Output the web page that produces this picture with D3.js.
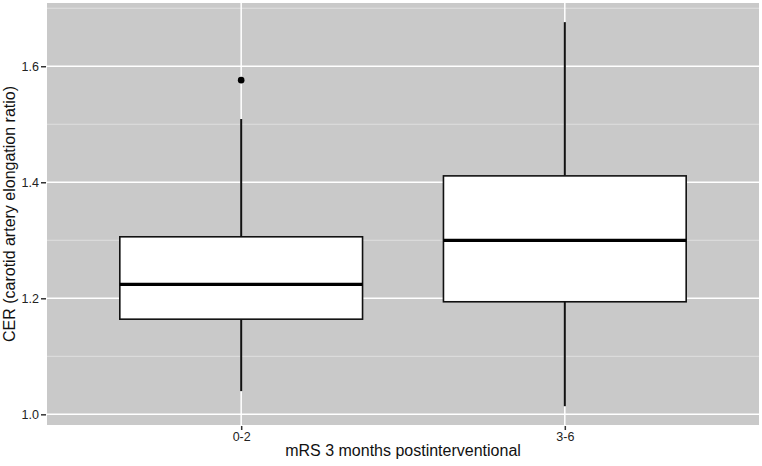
<!DOCTYPE html>
<html>
<head>
<meta charset="utf-8">
<script src="https://cdn.jsdelivr.net/npm/d3@7"></script>
<style>
  body { margin: 0; background: #fff; }
  text { font-family: "Liberation Sans", Arial, sans-serif; }
</style>
</head>
<body>
<div id="chart"></div>
<script>
var groups = ["0-2", "3-6"];
var lowerWhisker = [1.040, 1.014];
var q1 = [1.164, 1.194];
var median = [1.224, 1.300];
var q3 = [1.306, 1.411];
var upperWhisker = [1.509, 1.676];
var outliers = [[1.576], []];
var yTicks = [1.0, 1.2, 1.4, 1.6];
var yMinor = [1.1, 1.3, 1.5, 1.7];

var w = 762, h = 466;
var margin = {top: 3, right: 3, bottom: 41, left: 47};

var svg = d3.select("#chart").append("svg")
  .attr("width", w)
  .attr("height", h);

// ggplot style: discrete axis expanded 0.6 each side
var x = d3.scalePoint()
  .domain(groups)
  .range([margin.left, w - margin.right])
  .padding(0.6);
var step = x.step();
var boxW = step * 0.75;

var y = d3.scaleLinear()
  .domain([0.9816, 1.709])
  .range([h - margin.bottom, margin.top]);

// panel
svg.append("rect")
  .attr("x", margin.left)
  .attr("y", margin.top)
  .attr("width", w - margin.left - margin.right)
  .attr("height", h - margin.top - margin.bottom)
  .attr("fill", "#c9c9c9");

// minor grid
svg.selectAll(".minor").data(yMinor).enter().append("line")
  .attr("x1", margin.left).attr("x2", w - margin.right)
  .attr("y1", function(d) { return y(d); })
  .attr("y2", function(d) { return y(d); })
  .attr("stroke", "#e6e6e6").attr("stroke-width", 0.8);

// major grid
svg.selectAll(".major").data(yTicks).enter().append("line")
  .attr("x1", margin.left).attr("x2", w - margin.right)
  .attr("y1", function(d) { return y(d); })
  .attr("y2", function(d) { return y(d); })
  .attr("stroke", "#fff").attr("stroke-width", 1.5);

svg.selectAll(".vgrid").data(groups).enter().append("line")
  .attr("x1", function(d) { return x(d); })
  .attr("x2", function(d) { return x(d); })
  .attr("y1", margin.top).attr("y2", h - margin.bottom)
  .attr("stroke", "#fff").attr("stroke-width", 1.5);

// boxes
var data = groups.map(function(g, i) {
  return {g: g, lo: lowerWhisker[i], q1: q1[i], med: median[i], q3: q3[i], hi: upperWhisker[i], out: outliers[i]};
});

var box = svg.selectAll(".box").data(data).enter().append("g");

box.append("line")
  .attr("x1", function(d) { return x(d.g); })
  .attr("x2", function(d) { return x(d.g); })
  .attr("y1", function(d) { return y(d.hi); })
  .attr("y2", function(d) { return y(d.q3); })
  .attr("stroke", "#111").attr("stroke-width", 2);

box.append("line")
  .attr("x1", function(d) { return x(d.g); })
  .attr("x2", function(d) { return x(d.g); })
  .attr("y1", function(d) { return y(d.q1); })
  .attr("y2", function(d) { return y(d.lo); })
  .attr("stroke", "#111").attr("stroke-width", 2);

box.append("rect")
  .attr("x", function(d) { return x(d.g) - boxW / 2; })
  .attr("y", function(d) { return y(d.q3); })
  .attr("width", boxW)
  .attr("height", function(d) { return y(d.q1) - y(d.q3); })
  .attr("fill", "#fff")
  .attr("stroke", "#111").attr("stroke-width", 1.6);

box.append("line")
  .attr("x1", function(d) { return x(d.g) - boxW / 2; })
  .attr("x2", function(d) { return x(d.g) + boxW / 2; })
  .attr("y1", function(d) { return y(d.med); })
  .attr("y2", function(d) { return y(d.med); })
  .attr("stroke", "#000").attr("stroke-width", 3.2);

box.selectAll("circle").data(function(d) {
    return d.out.map(function(v) { return {g: d.g, v: v}; });
  }).enter().append("circle")
  .attr("cx", function(d) { return x(d.g); })
  .attr("cy", function(d) { return y(d.v); })
  .attr("r", 3.3)
  .attr("fill", "#000");

// axes
var yAxis = d3.axisLeft(y).tickValues(yTicks).tickFormat(d3.format(".1f")).tickSize(5).tickPadding(2);
var gy = svg.append("g").attr("transform", "translate(" + (margin.left - 1) + ",0)").call(yAxis);
gy.select(".domain").remove();
gy.selectAll("line").attr("stroke", "#333").attr("stroke-width", 1.5);
gy.selectAll("text").attr("font-size", 12.5).attr("fill", "#222");

var xAxis = d3.axisBottom(x).tickSize(4).tickPadding(2);
var gx = svg.append("g").attr("transform", "translate(0," + (h - margin.bottom + 1) + ")").call(xAxis);
gx.select(".domain").remove();
gx.selectAll("line").attr("stroke", "#333").attr("stroke-width", 1.5);
gx.selectAll("text").attr("font-size", 12.5).attr("fill", "#222");

// titles
svg.append("text")
  .attr("x", (margin.left + w - margin.right) / 2)
  .attr("y", 456)
  .attr("text-anchor", "middle")
  .attr("font-size", 16)
  .attr("fill", "#111")
  .text("mRS 3 months postinterventional");

svg.append("text")
  .attr("transform", "translate(15," + ((margin.top + h - margin.bottom) / 2) + ") rotate(-90)")
  .attr("text-anchor", "middle")
  .attr("font-size", 16)
  .attr("fill", "#111")
  .text("CER (carotid artery elongation ratio)");
</script>
</body>
</html>
